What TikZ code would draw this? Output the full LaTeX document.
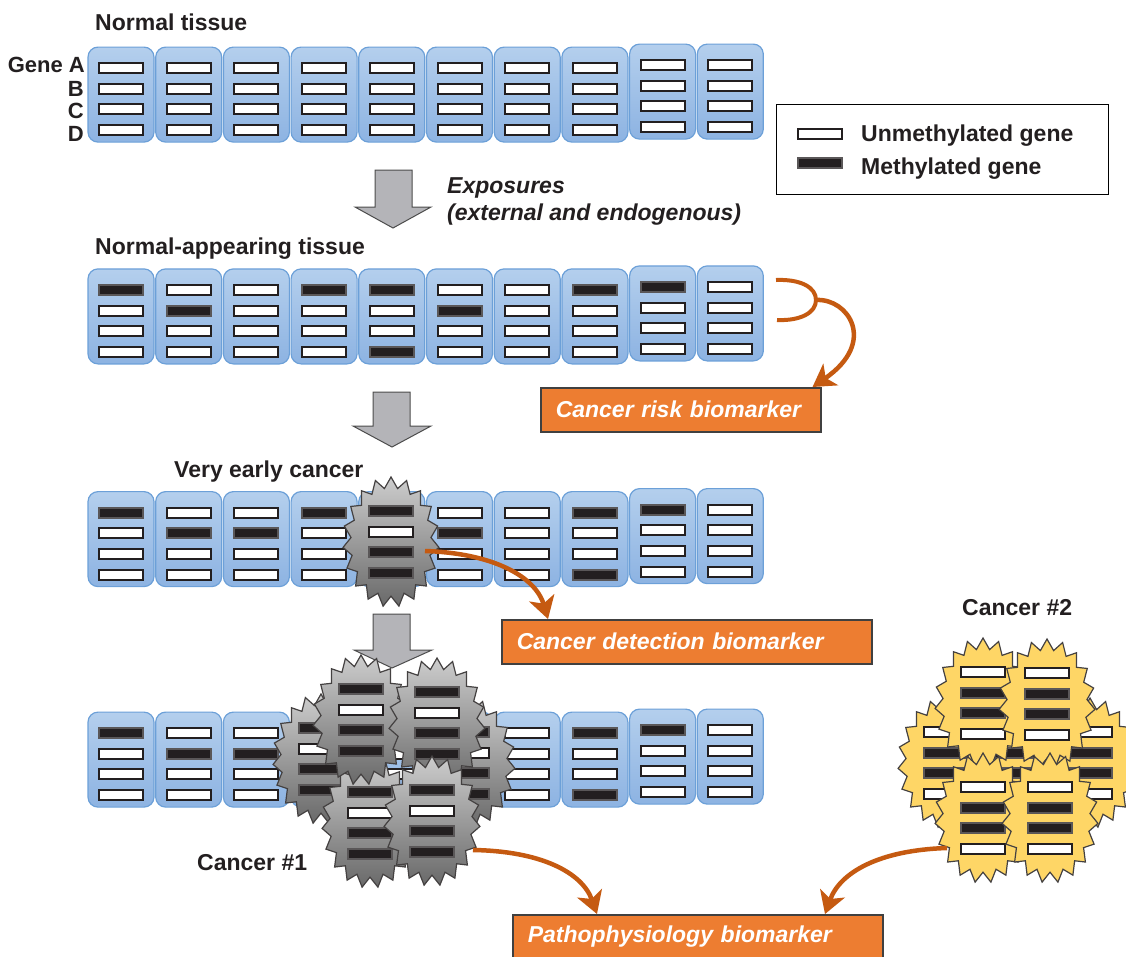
\documentclass[tikz,border=0pt]{standalone}
\usepackage{fontspec}
\setmainfont{Liberation Sans}
\usetikzlibrary{shapes.geometric,arrows.meta}

\definecolor{celltop}{RGB}{180,207,237}
\definecolor{cellbot}{RGB}{141,179,226}
\definecolor{cellline}{RGB}{108,160,216}
\definecolor{genedark}{RGB}{35,31,32}
\definecolor{tumtop}{RGB}{205,205,205}
\definecolor{tumbot}{RGB}{105,105,105}
\definecolor{tumyellow}{RGB}{254,214,102}
\definecolor{markerfill}{RGB}{237,125,49}
\definecolor{markerline}{RGB}{197,90,17}
\definecolor{stagegray}{RGB}{180,180,184}

% one row of ten cells, four genes each (1 = methylated)
\newcommand{\tissuerow}[3]{%
  \foreach \ga/\gb/\gc/\gd [count=\i] in {#3} {
    \pgfmathsetmacro\cx{121+67.7*(\i-1)}
    \pgfmathsetmacro\cy{#2-3*(\i>8)}
    \node[cell] (#1c\i) at (\cx,\cy) {};
    \foreach \m [count=\k] in {\ga,\gb,\gc,\gd}
      \node[g\m] (#1c\i g\k) at (\cx,{\cy+21.5+20.7*(\k-1)}) {};
  }}

\begin{document}
\begin{tikzpicture}[
    x=1pt, y=-1pt,
    lbl/.style={inner sep=0, text=genedark, font=\fontsize{23}{27}\selectfont\bfseries},
    lbli/.style={lbl, font=\fontsize{23}{27}\selectfont\bfseries\itshape},
    cell/.style={draw=cellline, line width=1.2pt, rounded corners=10pt, top color=celltop, bottom color=cellbot, minimum width=66pt, minimum height=95pt, anchor=north},
    g0/.style={draw=genedark, line width=2pt, fill=white, minimum width=44pt, minimum height=10pt, inner sep=0},
    g1/.style={g0, draw=genedark!75!white, fill=genedark},
    tumour/.style={star, star points=19, star point ratio=1.2, inner sep=0, minimum size=130pt, xscale=0.74, draw=genedark!85, line width=1.2pt},
    greytum/.style={tumour, top color=tumtop, bottom color=tumbot},
    yellowtum/.style={tumour, fill=tumyellow},
    stagearrow/.style={draw=black!70, line width=1pt, fill=stagegray},
    marker/.style={draw=black!75, line width=1.5pt, fill=markerfill, text=white, font=\fontsize{23}{27}\selectfont\bfseries\itshape, minimum height=44pt, inner xsep=15pt, inner ysep=0, align=left, anchor=north west},
    link/.style={draw=markerline, line width=4.5pt, -{Stealth[length=22pt, width=26pt, inset=6pt]}}
]
    \useasboundingbox (0,0) rectangle (1126,956);
    \clip (0,0) rectangle (1126,956);

    % tissue rows
    \node[lbl, anchor=base west] (normal) at (95,30) {Normal tissue};
    \node[lbl, anchor=base east, font=\fontsize{22}{26}\selectfont\bfseries] (genea) at (85,72) {Gene A};
    \node[lbl, anchor=base east, font=\fontsize{22}{26}\selectfont\bfseries] (geneb) at (84,96.5) {B};
    \node[lbl, anchor=base east, font=\fontsize{22}{26}\selectfont\bfseries] (genec) at (84,118.5) {C};
    \node[lbl, anchor=base east, font=\fontsize{22}{26}\selectfont\bfseries] (gened) at (84,141.5) {D};
    \tissuerow{a}{46.5}{0/0/0/0,0/0/0/0,0/0/0/0,0/0/0/0,0/0/0/0,0/0/0/0,0/0/0/0,0/0/0/0,0/0/0/0,0/0/0/0}

    \node[lbl, anchor=base west] (appearing) at (95,254) {Normal-appearing tissue};
    \tissuerow{b}{268.3}{1/0/0/0,0/1/0/0,0/0/0/0,1/0/0/0,1/0/0/1,0/1/0/0,0/0/0/0,1/0/0/0,1/0/0/0,0/0/0/0}

    \node[lbl, anchor=base west] (veryearly) at (174,477) {Very early cancer};
    \tissuerow{c}{491}{1/0/0/0,0/1/0/0,0/1/0/0,1/0/0/0,1/0/0/1,0/1/0/0,0/0/0/0,1/0/0/1,1/0/0/0,0/0/0/0}

    \tissuerow{d}{711.5}{1/0/0/0,0/1/0/0,0/1/0/0,1/0/0/0,1/0/0/1,0/1/0/0,0/0/0/0,1/0/0/1,1/0/0/0,0/0/0/0}

    % stage arrows
    \draw[stagearrow] (375,170) -- (412,170) -- (412,207) -- (431,207) -- (393,228) -- (355,207) -- (375,207) -- cycle;
    \draw[stagearrow] (373,392) -- (410,392) -- (410,426) -- (431,426) -- (392,447) -- (353,426) -- (373,426) -- cycle;
    \draw[stagearrow] (373,614) -- (410,614) -- (410,650) -- (432,650) -- (392,668) -- (354,650) -- (373,650) -- cycle;
    \node[lbli, anchor=base west] (exposures) at (447,193) {Exposures};
    \node[lbli, anchor=base west] (sources) at (447,220) {(external and endogenous)};

    % legend
    \node[draw, line width=1.2pt, minimum width=332pt, minimum height=90pt, anchor=north west] (legend) at (776,104) {};
    \node[g0] (unmeth) at (820,134) {};
    \node[g1] (meth) at (820,162.5) {};
    \node[lbl, anchor=base west] (unmethtxt) at (861,141.5) {Unmethylated gene};
    \node[lbl, anchor=base west] (methtxt) at (861,174) {Methylated gene};

    % early tumour
    \node[greytum] (early) at (391,542) {};
    \foreach \m [count=\k] in {1,0,1,1}
      \node[g\m] (early g\k) at (391,{542-51.25+20.5*\k}) {};

    % cancer #1
    \foreach \n/\sx/\sy in {d/467/763, a/321/759, e/370/823, b/361/720, c/437/723, f/432/821} {
      \node[greytum] (one\n) at (\sx,\sy) {};
      \foreach \m [count=\k] in {1,0,1,1}
        \node[g\m] (one\n g\k) at (\sx,{\sy-51.25+20.5*\k}) {};
    }
    \node[lbl, anchor=base west] (cancerone) at (197,870) {Cancer \#1};

    % cancer #2
    \foreach \n/\sx/\sy in {m/1016/763, c/946/763, d/1090/763, a/983/703, b/1047/704, e/983/818, f/1050/818} {
      \node[yellowtum] (two\n) at (\sx,\sy) {};
      \foreach \m [count=\k] in {0,1,1,0}
        \node[g\m] (two\n g\k) at (\sx,{\sy-51.25+20.5*\k}) {};
    }
    \node[lbl, anchor=base west] (cancertwo) at (962,615) {Cancer \#2};

    % biomarkers
    \node[marker, text width=250pt] (risk) at (540,387) {Cancer risk biomarker};
    \node[marker, text width=340pt] (detect) at (501,619) {Cancer detection biomarker};
    \node[marker, text width=340pt] (patho) at (512,914) {Pathophysiology biomarker};

    \coordinate (fork) at (816,300);
    \coordinate (earlyout) at (425,551);
    \coordinate (oneout) at (473,850);
    \coordinate (twoout) at (947,848);

    \draw[markerline, line width=4pt] (776,280) .. controls (800,279) and (816,287) .. (fork) .. controls (816,313) and (800,321) .. (777,320);
    \draw[link] (fork) .. controls (848,298) and (878,342) .. ([xshift=-9pt]risk.north east);
    \draw[link] (earlyout) .. controls (490,553) and (535,575) .. ([xshift=47pt]detect.north west);
    \draw[link] (oneout) .. controls (540,851) and (582,872) .. ([xshift=85pt]patho.north west);
    \draw[link] (twoout) .. controls (880,850) and (840,872) .. ([xshift=313pt]patho.north west);
\end{tikzpicture}
\end{document}
